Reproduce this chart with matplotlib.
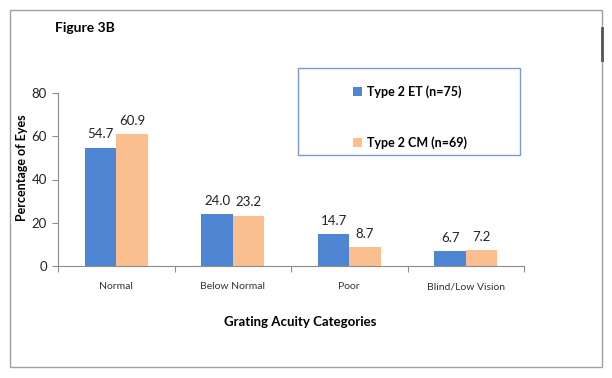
import matplotlib
matplotlib.use("Agg")
import matplotlib.pyplot as plt
from matplotlib.patches import Rectangle
from matplotlib.lines import Line2D
import numpy as np

categories = ["Normal", "Below Normal", "Poor", "Blind/Low Vision"]
et_values = [54.7, 24.0, 14.7, 6.7]
cm_values = [60.9, 23.2, 8.7, 7.2]
et_label = "Type 2 ET (n=75)"
cm_label = "Type 2 CM (n=69)"

BLUE = "#4F86D4"
ORANGE = "#FBBE8E"
AXIS = "#8C8C8C"

plt.rcParams["font.family"] = ["Lato", "DejaVu Sans"]

fig = plt.figure(figsize=(6.12, 3.78), dpi=100)
ax = fig.add_axes([58 / 612, 1 - 265.7 / 378, (524 - 58) / 612, (265.7 - 93.3) / 378])

x = np.arange(len(categories))
w = 0.27
b1 = ax.bar(x - w / 2, et_values, w, color=BLUE, label=et_label)
b2 = ax.bar(x + w / 2, cm_values, w, color=ORANGE, label=cm_label)

for bars, vals in ((b1, et_values), (b2, cm_values)):
    for r, v in zip(bars, vals):
        ax.text(r.get_x() + r.get_width() / 2, v + 3.4, "%.1f" % v,
                ha="center", va="bottom", fontsize=9.5, color="#222222")

ax.set_xlim(-0.5, len(categories) - 0.5)
ax.set_ylim(0, 80)
ax.set_yticks([0, 20, 40, 60, 80])
ax.set_xticks(np.arange(len(categories) + 1) - 0.5)
ax.set_xticklabels([])
ax.set_xticks(x, minor=True)
ax.set_xticklabels(categories, minor=True, fontsize=7.5, color="#333333")
ax.tick_params(axis="x", which="minor", length=0, pad=12)
ax.tick_params(axis="x", which="major", length=4, color=AXIS)
ax.tick_params(axis="y", length=4, color=AXIS, labelsize=9.5, labelcolor="#222222", pad=4)

for s in ("top", "right"):
    ax.spines[s].set_visible(False)
for s in ("left", "bottom"):
    ax.spines[s].set_color(AXIS)
    ax.spines[s].set_linewidth(0.8)

fig.text(22 / 612, 1 - 168 / 378, "Percentage of Eyes", rotation=90, fontsize=9,
         fontweight="bold", ha="center", va="center")
fig.text(300 / 612, 1 - 322 / 378, "Grating Acuity Categories", fontsize=9.5,
         fontweight="bold", ha="center", va="center")

# legend: entries centred inside a fixed box
leg = fig.legend(loc="center", bbox_to_anchor=(410 / 612, 1 - 117 / 378),
                 frameon=False, prop={"weight": "bold", "size": 9},
                 handlelength=0.7, handleheight=0.7, labelspacing=3.1,
                 handletextpad=0.4, borderaxespad=0)
leg._legend_box.align = "left"
fig.patches.append(Rectangle((298 / 612, 1 - 155 / 378), 222 / 612, 87 / 378,
                             transform=fig.transFigure, fill=False,
                             edgecolor="#7A9AD6", linewidth=1.0))

fig.text(55 / 612, 1 - 28 / 378, "Figure 3B", fontsize=10, fontweight="bold",
         ha="left", va="center")

# chart area border
fig.patches.append(Rectangle((10 / 612, 1 - 367 / 378), 592 / 612, 357 / 378,
                             transform=fig.transFigure, fill=False,
                             edgecolor="#A0A0A0", linewidth=1.0))
fig.lines.append(Line2D([602 / 612, 602 / 612], [1 - 28 / 378, 1 - 60 / 378],
                        transform=fig.transFigure, color="#555555", linewidth=2))

fig.savefig("out.png", dpi=100)
